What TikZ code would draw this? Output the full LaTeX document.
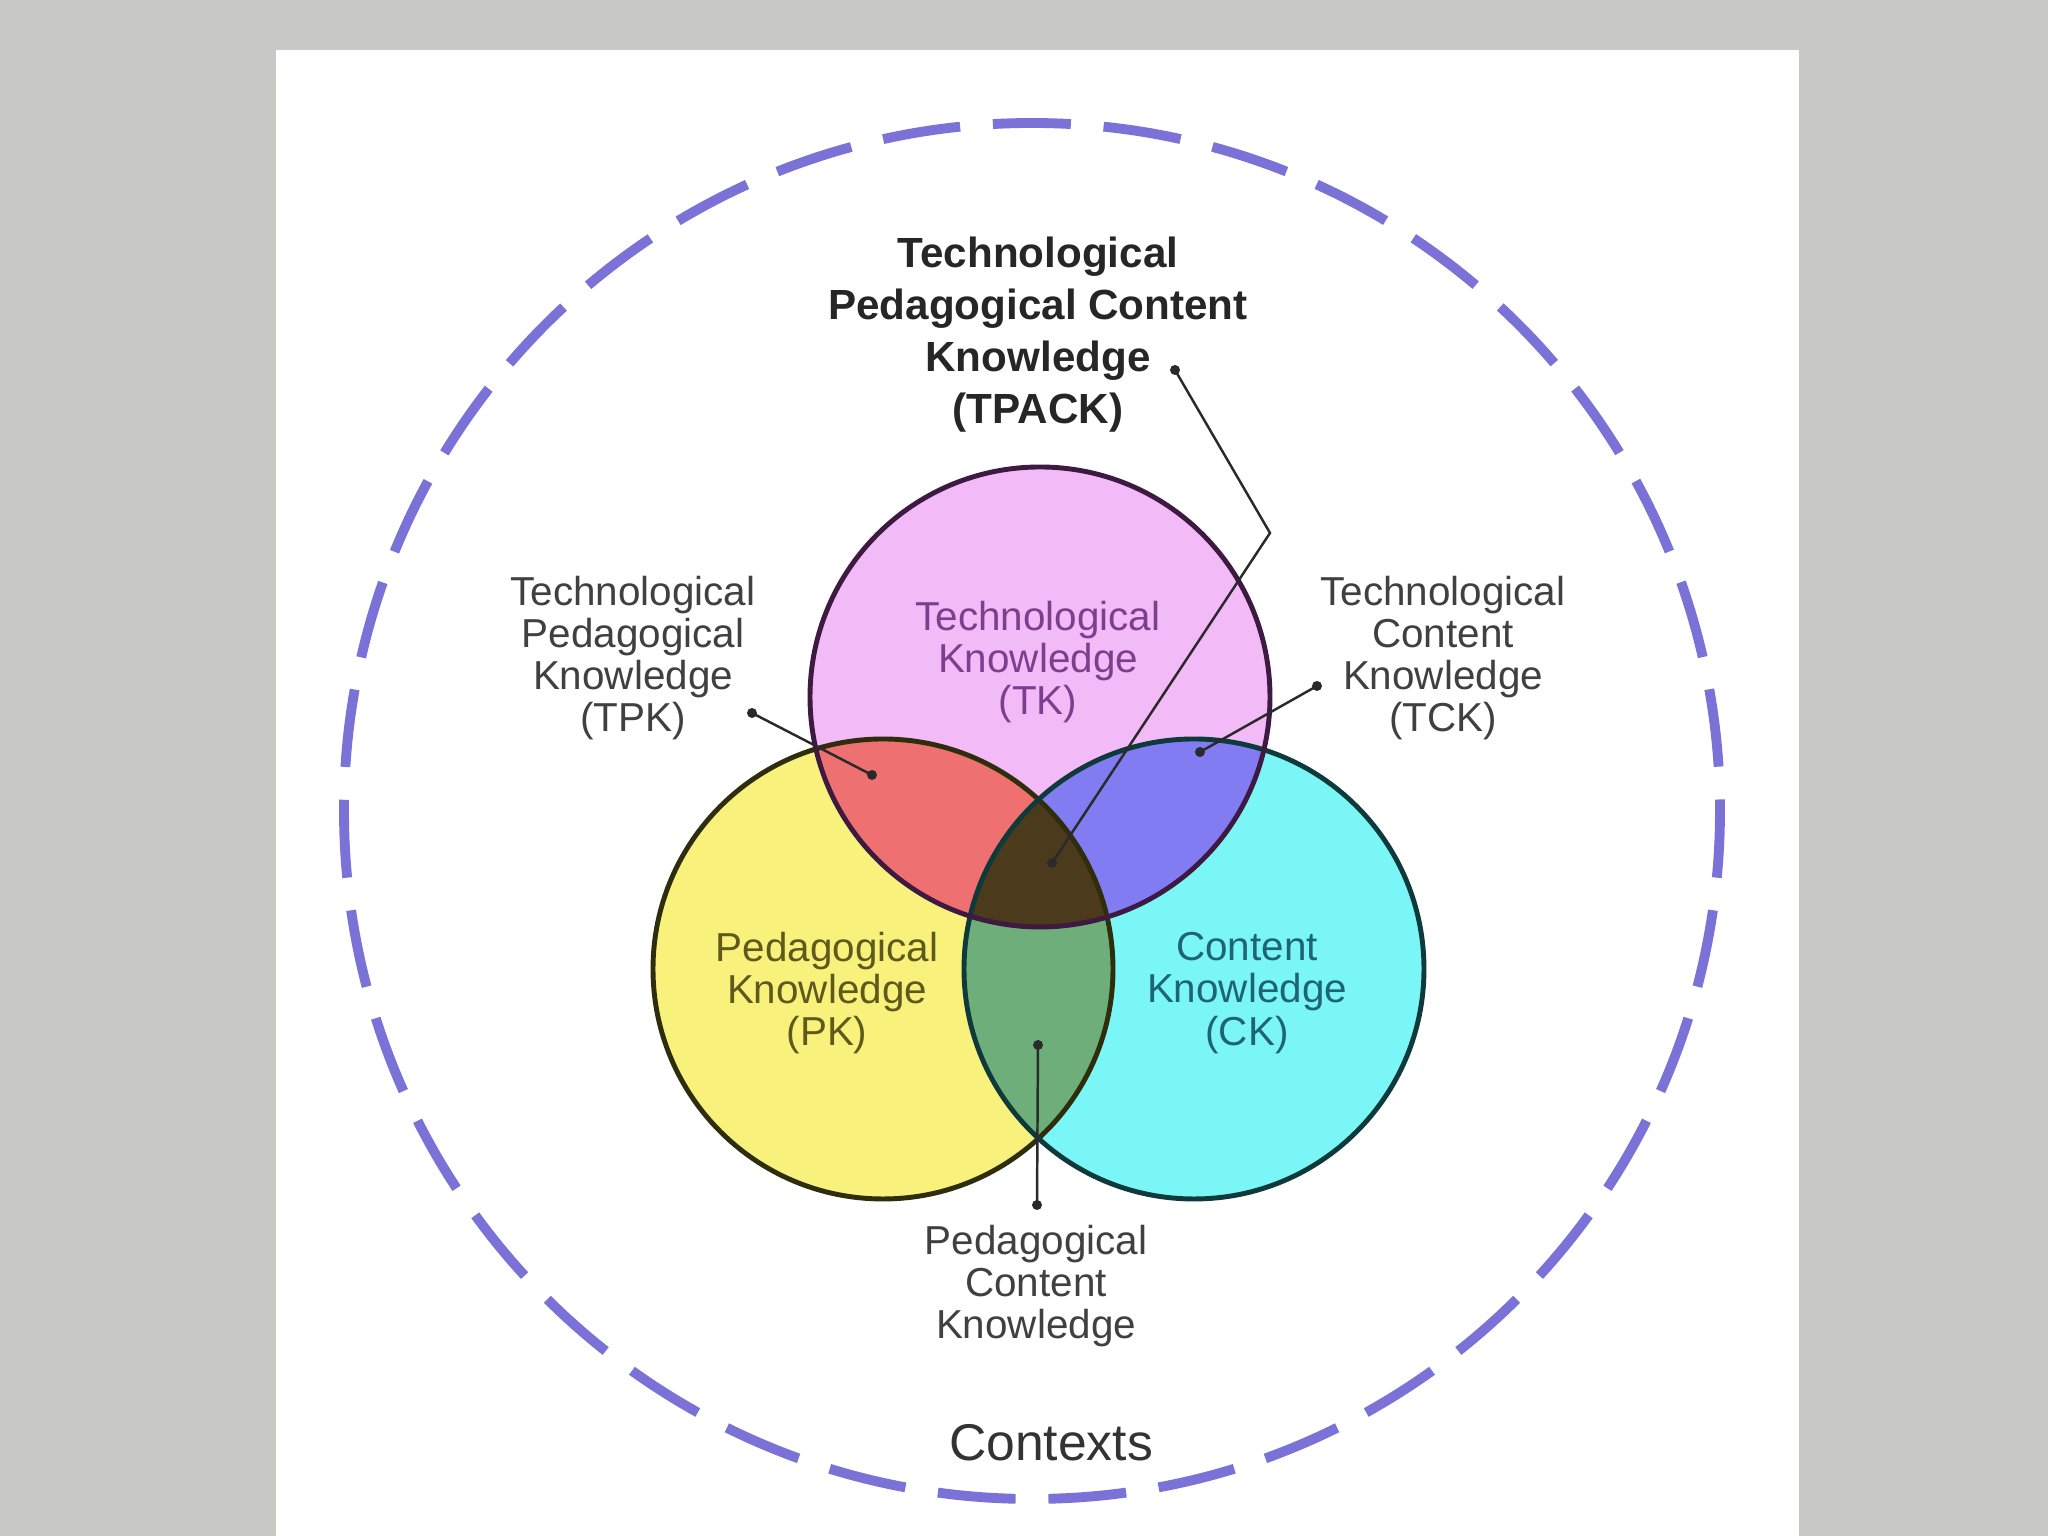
\documentclass[tikz,border=0pt]{standalone}
\usepackage{fontspec}
\setmainfont{Liberation Sans}
\definecolor{bggray}{HTML}{C8C9C4}
\definecolor{ctxblue}{HTML}{7B72D8}
\definecolor{tkfill}{HTML}{F2BAF6}
\definecolor{pkfill}{HTML}{F8F27C}
\definecolor{ckfill}{HTML}{7AF6F6}
\definecolor{tpkfill}{HTML}{EE7070}
\definecolor{tckfill}{HTML}{827CF2}
\definecolor{pckfill}{HTML}{6EAE7A}
\definecolor{tpackfill}{HTML}{4B3B1C}
\definecolor{tkline}{HTML}{3E1A42}
\definecolor{pkline}{HTML}{2E2E0C}
\definecolor{ckline}{HTML}{0E3A3C}
\definecolor{lblgray}{HTML}{404040}
\definecolor{leadc}{HTML}{2A2A2A}
\definecolor{tktext}{HTML}{7E3E8E}
\definecolor{pktext}{HTML}{5E5A1C}
\definecolor{cktext}{HTML}{1E6478}
\begin{document}
\begin{tikzpicture}[
  lbl/.style={align=center, font=\fontsize{11.5}{12}\selectfont, text=lblgray, inner sep=0pt},
  leader/.style={draw=leadc, line width=0.7pt},
  dotc/.style={circle, fill=leadc, inner sep=0pt, minimum size=0.1cm},
  venn/.style={line width=1.4pt}
]
\useasboundingbox (0,0) rectangle (20.48,15.36);
\fill[bggray] (0,0) rectangle (20.48,15.36);
\fill[white] (2.76,0) rectangle (17.99,14.86);

% contexts circle
\coordinate (ctx) at (10.32,7.25);
\draw[ctxblue, line width=2.8pt, dash pattern=on 0.78cm off 0.3285cm, dash phase=0.665cm] (ctx) circle[radius=6.88cm];

% venn circles
\coordinate (T) at (10.40,8.39);
\coordinate (P) at (8.83,5.67);
\coordinate (C) at (11.94,5.67);
\def\R{2.30cm}
\fill[tkfill] (T) circle[radius=\R];
\fill[pkfill] (P) circle[radius=\R];
\fill[ckfill] (C) circle[radius=\R];
\begin{scope}
  \clip (T) circle[radius=\R];
  \fill[tpkfill] (P) circle[radius=\R];
  \fill[tckfill] (C) circle[radius=\R];
\end{scope}
\begin{scope}
  \clip (P) circle[radius=\R];
  \fill[pckfill] (C) circle[radius=\R];
\end{scope}
\begin{scope}
  \clip (T) circle[radius=\R];
  \clip (P) circle[radius=\R];
  \fill[tpackfill] (C) circle[radius=\R];
\end{scope}
\draw[venn, pkline] (P) circle[radius=\R];
\draw[venn, ckline] (C) circle[radius=\R];
\draw[venn, tkline] (T) circle[radius=\R];

% circle labels
\node[lbl, text=tktext] (tk) at (10.38,8.74) {Technological\\Knowledge\\(TK)};
\node[lbl, text=pktext] (pk) at (8.27,5.43) {Pedagogical\\Knowledge\\(PK)};
\node[lbl, text=cktext] (ck) at (12.47,5.43) {Content\\Knowledge\\(CK)};

% outer labels
\node[align=center, inner sep=0pt, font=\bfseries\fontsize{12}{14.8}\selectfont, text=black!85] (tpack) at (10.38,12.01) {Technological\\Pedagogical Content\\Knowledge\\(TPACK)};
\node[lbl] (tpk) at (6.33,8.78) {Technological\\Pedagogical\\Knowledge\\(TPK)};
\node[lbl] (tck) at (14.43,8.78) {Technological\\Content\\Knowledge\\(TCK)};
\node[lbl] (pck) at (10.36,2.50) {Pedagogical\\Content\\Knowledge};
\node[inner sep=0pt, font=\fontsize{14.7}{16}\selectfont, text=black!80] (contexts) at (10.51,0.93) {Contexts};

% leader lines
\node[dotc] (tpackout) at (11.75,11.66) {};
\coordinate (tpackbend) at (12.70,10.03);
\node[dotc] (tpackin) at (10.52,6.73) {};
\draw[leader] (tpackout.center) -- (tpackbend) -- (tpackin.center);

\node[dotc] (tpkout) at (7.52,8.23) {};
\node[dotc] (tpkin) at (8.72,7.61) {};
\draw[leader] (tpkout.center) -- (tpkin.center);

\node[dotc] (tckout) at (13.17,8.50) {};
\node[dotc] (tckin) at (12.00,7.84) {};
\draw[leader] (tckout.center) -- (tckin.center);

\node[dotc] (pckout) at (10.37,3.31) {};
\node[dotc] (pckin) at (10.38,4.91) {};
\draw[leader] (pckout.center) -- (pckin.center);
\end{tikzpicture}
\end{document}
